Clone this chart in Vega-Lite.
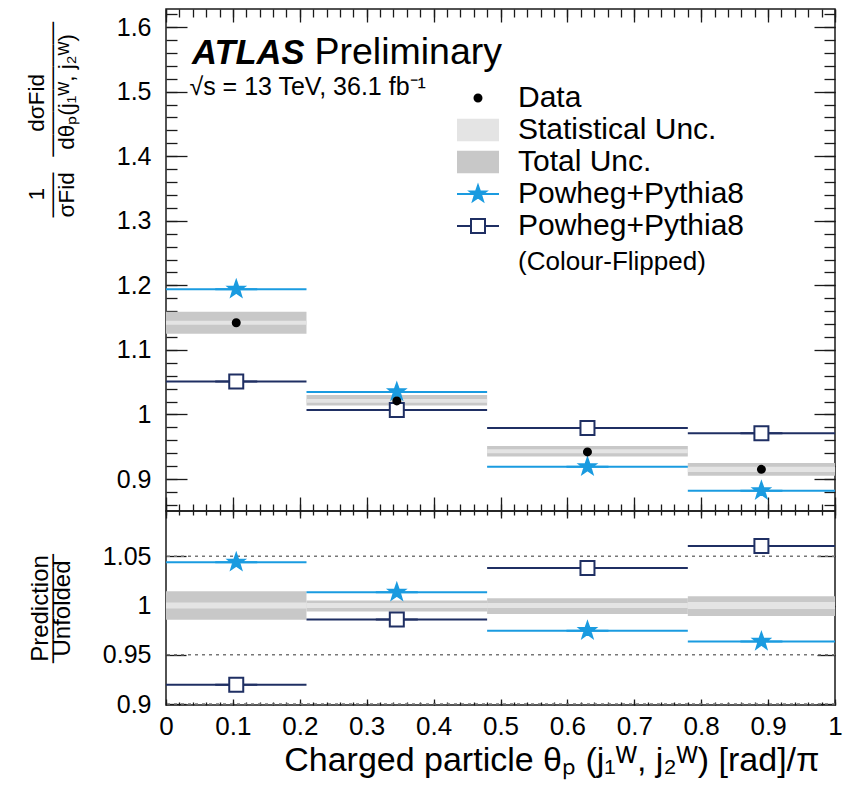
{
  "$schema": "https://vega.github.io/schema/vega-lite/v6.json",
  "padding": {"left": 24, "top": 7, "right": 5, "bottom": 5},
  "background": "white",
  "config": {
    "font": "Liberation Sans",
    "view": {"stroke": "#1a1a1a", "strokeWidth": 1.5},
    "axis": {"labelColor": "#000", "labelFont": "Liberation Sans", "titleFont": "Liberation Sans", "titleColor": "#000", "titleFontWeight": "normal", "tickColor": "#1a1a1a", "tickWidth": 1.3, "grid": false, "domain": false, "labelFlush": false},
    "legend": {"labelFont": "Liberation Sans", "labelColor": "#000"}
  },
  "datasets": {
    "top": [
      {"lo": 0, "hi": 0.21, "mid": 0.105, "data": 1.142, "pp8": 1.194, "pp8cf": 1.051, "statLo": 1.139, "statHi": 1.145, "totLo": 1.125, "totHi": 1.159},
      {"lo": 0.21, "hi": 0.48, "mid": 0.345, "data": 1.021, "pp8": 1.035, "pp8cf": 1.007, "statLo": 1.018, "statHi": 1.024, "totLo": 1.014, "totHi": 1.03},
      {"lo": 0.48, "hi": 0.78, "mid": 0.63, "data": 0.942, "pp8": 0.919, "pp8cf": 0.979, "statLo": 0.94, "statHi": 0.946, "totLo": 0.935, "totHi": 0.951},
      {"lo": 0.78, "hi": 1.0, "mid": 0.89, "data": 0.915, "pp8": 0.882, "pp8cf": 0.971, "statLo": 0.911, "statHi": 0.919, "totLo": 0.905, "totHi": 0.925}
    ],
    "bottom": [
      {"lo": 0, "hi": 0.21, "mid": 0.105, "pp8": 1.044, "pp8cf": 0.9196, "statLo": 0.997, "statHi": 1.003, "totLo": 0.9855, "totHi": 1.0145},
      {"lo": 0.21, "hi": 0.48, "mid": 0.345, "pp8": 1.0135, "pp8cf": 0.9857, "statLo": 0.9975, "statHi": 1.0025, "totLo": 0.994, "totHi": 1.005},
      {"lo": 0.48, "hi": 0.78, "mid": 0.63, "pp8": 0.9745, "pp8cf": 1.038, "statLo": 0.9975, "statHi": 1.0025, "totLo": 0.9915, "totHi": 1.0075},
      {"lo": 0.78, "hi": 1.0, "mid": 0.89, "pp8": 0.9636, "pp8cf": 1.0604, "statLo": 0.9965, "statHi": 1.0035, "totLo": 0.9895, "totHi": 1.0095}
    ],
    "refs": [{"r": 1.05}, {"r": 0.95}, {"r": 0.9}]
  },
  "bounds": "flush",
  "spacing": 0,
  "resolve": {
    "scale": {"fill": "independent", "stroke": "independent", "shape": "independent"},
    "legend": {"fill": "independent", "stroke": "independent", "shape": "independent"}
  },
  "vconcat": [
    {
      "width": 669,
      "height": 502,
      "data": {"name": "top"},
      "resolve": {"axis": {"x": "independent", "y": "independent"}},
      "layer": [
        {
          "mark": {"type": "rect", "color": "#c8c8c8"},
          "encoding": {
            "x": {"field": "lo", "type": "quantitative", "scale": {"domain": [0, 1], "nice": false, "zero": false},
              "axis": {"orient": "bottom", "values": [0,0.1,0.2,0.3,0.4,0.5,0.6,0.7,0.8,0.9,1], "labels": false, "ticks": true, "tickSize": -14, "title": null}},
            "x2": {"field": "hi"},
            "y": {"field": "totLo", "type": "quantitative", "scale": {"domain": [0.8505, 1.628], "nice": false, "zero": false},
              "axis": {"orient": "left", "values": [0.9,1,1.1,1.2,1.3,1.4,1.5,1.6], "format": "~g", "ticks": false, "labelFontSize": 25, "labelPadding": 15,
                "title": ["\u28001\u2003\u2003\u2002dσFid", "——\u2002\u2009——————", "σFid\u2003dθₚ(j₁ᵂ, j₂ᵂ)"], "titleFontSize": 22.5, "titleLineHeight": 15, "titleAlign": "left", "titleY": 208, "titlePadding": 38}},
            "y2": {"field": "totHi"}
          }
        },
        {
          "mark": {"type": "rect", "color": "#e4e4e4"},
          "encoding": {
            "x": {"field": "lo", "type": "quantitative", "scale": {"domain": [0, 1], "nice": false, "zero": false},
              "axis": {"orient": "bottom", "values": [0,0.02,0.04,0.06,0.08,0.1,0.12,0.14,0.16,0.18,0.2,0.22,0.24,0.26,0.28,0.3,0.32,0.34,0.36,0.38,0.4,0.42,0.44,0.46,0.48,0.5,0.52,0.54,0.56,0.58,0.6,0.62,0.64,0.66,0.68,0.7,0.72,0.74,0.76,0.78,0.8,0.82,0.84,0.86,0.88,0.9,0.92,0.94,0.96,0.98,1], "labels": false, "tickSize": -7, "title": null}},
            "x2": {"field": "hi"},
            "y": {"field": "statLo", "type": "quantitative", "scale": {"domain": [0.8505, 1.628], "nice": false, "zero": false},
              "axis": {"orient": "left", "values": [0.9,1,1.1,1.2,1.3,1.4,1.5,1.6], "labels": false, "tickSize": -21, "title": null}},
            "y2": {"field": "statHi"}
          }
        },
        {
          "mark": {"type": "rule", "strokeWidth": 2, "color": "#1a9be0"},
          "encoding": {
            "x": {"field": "lo", "type": "quantitative", "scale": {"domain": [0, 1], "nice": false, "zero": false},
              "axis": {"orient": "top", "values": [0,0.1,0.2,0.3,0.4,0.5,0.6,0.7,0.8,0.9,1], "labels": false, "tickSize": -13, "title": null}},
            "x2": {"field": "hi"},
            "y": {"field": "pp8", "type": "quantitative", "scale": {"domain": [0.8505, 1.628], "nice": false, "zero": false},
              "axis": {"orient": "left", "values": [0.86,0.88,0.9,0.92,0.94,0.96,0.98,1,1.02,1.04,1.06,1.08,1.1,1.12,1.14,1.16,1.18,1.2,1.22,1.24,1.26,1.28,1.3,1.32,1.34,1.36,1.38,1.4,1.42,1.44,1.46,1.48,1.5,1.52,1.54,1.56,1.58,1.6,1.62], "labels": false, "tickSize": -11, "title": null}}
          }
        },
        {
          "mark": {"type": "rule", "strokeWidth": 2, "color": "#1f2f63"},
          "encoding": {
            "x": {"field": "lo", "type": "quantitative", "scale": {"domain": [0, 1], "nice": false, "zero": false},
              "axis": {"orient": "top", "values": [0,0.02,0.04,0.06,0.08,0.1,0.12,0.14,0.16,0.18,0.2,0.22,0.24,0.26,0.28,0.3,0.32,0.34,0.36,0.38,0.4,0.42,0.44,0.46,0.48,0.5,0.52,0.54,0.56,0.58,0.6,0.62,0.64,0.66,0.68,0.7,0.72,0.74,0.76,0.78,0.8,0.82,0.84,0.86,0.88,0.9,0.92,0.94,0.96,0.98,1], "labels": false, "tickSize": -8, "title": null}},
            "x2": {"field": "hi"},
            "y": {"field": "pp8cf", "type": "quantitative", "scale": {"domain": [0.8505, 1.628], "nice": false, "zero": false},
              "axis": {"orient": "right", "values": [0.9,1,1.1,1.2,1.3,1.4,1.5,1.6], "labels": false, "tickSize": -21, "title": null}}
          }
        },
        {
          "transform": [{"fold": ["pp8cf", "pp8", "data"], "as": ["series", "value"]}],
          "mark": {"type": "point", "filled": true, "size": 196, "strokeWidth": 2, "opacity": 1},
          "encoding": {
            "x": {"field": "mid", "type": "quantitative", "scale": {"domain": [0, 1], "nice": false, "zero": false}, "axis": null},
            "y": {"field": "value", "type": "quantitative", "scale": {"domain": [0.8505, 1.628], "nice": false, "zero": false},
              "axis": {"orient": "right", "values": [0.86,0.88,0.9,0.92,0.94,0.96,0.98,1,1.02,1.04,1.06,1.08,1.1,1.12,1.14,1.16,1.18,1.2,1.22,1.24,1.26,1.28,1.3,1.32,1.34,1.36,1.38,1.4,1.42,1.44,1.46,1.48,1.5,1.52,1.54,1.56,1.58,1.6,1.62], "labels": false, "tickSize": -11, "title": null}},
            "fill": {"field": "series", "type": "nominal",
              "scale": {"domain": ["data", "stat", "total", "pp8", "pp8cf", "cf"], "range": ["#000000", "#e4e4e4", "#c8c8c8", "#1a9be0", "#ffffff", "rgba(0,0,0,0)"]},
              "legend": {"title": null, "orient": "none", "legendX": 297, "legendY": 74, "padding": 0, "symbolSize": 196, "symbolStrokeWidth": 2, "symbolOpacity": 1,
                "labelFontSize": 30, "labelOffset": 25, "rowPadding": -1, "gridAlign": "all", "labelLimit": 400,
                "labelExpr": "datum.value == 'data' ? 'Data' : datum.value == 'stat' ? 'Statistical Unc.' : datum.value == 'total' ? 'Total Unc.' : datum.value == 'cf' ? '(Colour-Flipped)' : 'Powheg+Pythia8'",
                "encode": {"labels": {"update": {"fontSize": {"signal": "datum.value == 'cf' ? 26 : 30"}, "dy": {"signal": "datum.value == 'cf' ? 4 : 0"}}}}}},
            "stroke": {"field": "series", "type": "nominal",
              "scale": {"domain": ["data", "stat", "total", "pp8", "pp8cf", "cf"], "range": ["#000000", "rgba(0,0,0,0)", "rgba(0,0,0,0)", "#1a9be0", "#1f2f63", "rgba(0,0,0,0)"]}},
            "shape": {"field": "series", "type": "nominal",
              "scale": {"domain": ["data", "stat", "total", "pp8", "pp8cf", "cf"],
                "range": ["M-0.5,0A0.5,0.5,0,1,0,0.5,0A0.5,0.5,0,1,0,-0.5,0Z", "M-3,-1.6H3V1.6H-3Z", "M-3,-1.6H3V1.6H-3Z", "M0,-1.2L0.282,-0.389L1.141,-0.371L0.457,0.149L0.705,0.971L0,0.48L-0.705,0.971L-0.457,0.149L-1.141,-0.371L-0.282,-0.389ZM-3,0H3", "M-1,-1H1V1H-1ZM-3,0H-1M1,0H3", "M0,0"]}}
          }
        },
        {
          "data": {"values": [{"t": "ATLAS"}]},
          "mark": {"type": "text", "align": "left", "baseline": "alphabetic", "fontSize": 34.5, "fontStyle": "italic", "fontWeight": "bold", "font": "Liberation Sans"},
          "encoding": {
            "x": {"datum": 0.039, "type": "quantitative", "axis": null},
            "y": {"datum": 1.543, "type": "quantitative", "axis": null},
            "text": {"field": "t"}
          }
        },
        {
          "data": {"values": [{"t": "Preliminary"}]},
          "mark": {"type": "text", "align": "left", "baseline": "alphabetic", "fontSize": 37.5, "font": "Liberation Sans"},
          "encoding": {
            "x": {"datum": 0.222, "type": "quantitative", "axis": null},
            "y": {"datum": 1.543, "type": "quantitative", "axis": null},
            "text": {"field": "t"}
          }
        },
        {
          "data": {"values": [{"t": "√s = 13 TeV, 36.1 fb⁻¹"}]},
          "mark": {"type": "text", "align": "left", "baseline": "alphabetic", "fontSize": 25, "font": "Liberation Sans"},
          "encoding": {
            "x": {"datum": 0.035, "type": "quantitative", "axis": null},
            "y": {"datum": 1.495, "type": "quantitative", "axis": null},
            "text": {"field": "t"}
          }
        }
      ]
    },
    {
      "width": 669,
      "height": 194,
      "data": {"name": "bottom"},
      "resolve": {"axis": {"x": "independent", "y": "independent"}},
      "layer": [
        {
          "mark": {"type": "rect", "color": "#c8c8c8"},
          "encoding": {
            "x": {"field": "lo", "type": "quantitative", "scale": {"domain": [0, 1], "nice": false, "zero": false},
              "axis": {"orient": "bottom", "values": [0,0.1,0.2,0.3,0.4,0.5,0.6,0.7,0.8,0.9,1], "format": "~g", "ticks": false, "labelFontSize": 26, "labelPadding": 8,
                "title": "Charged particle θₚ (j₁ᵂ, j₂ᵂ) [rad]/π", "titleFontSize": 34, "titleX": 653, "titleAlign": "right", "titlePadding": 4}},
            "x2": {"field": "hi"},
            "y": {"field": "totLo", "type": "quantitative", "scale": {"domain": [0.899, 1.096], "nice": false, "zero": false},
              "axis": {"orient": "left", "values": [0.9, 0.95, 1, 1.05], "format": "~g", "ticks": false, "labelFontSize": 25, "labelPadding": 15,
                "title": ["Prediction", "————–", "Unfolded"], "titleFontSize": 24, "titleLineHeight": 11, "titlePadding": 28}},
            "y2": {"field": "totHi"}
          }
        },
        {
          "mark": {"type": "rect", "color": "#e4e4e4"},
          "encoding": {
            "x": {"field": "lo", "type": "quantitative", "scale": {"domain": [0, 1], "nice": false, "zero": false},
              "axis": {"orient": "bottom", "values": [0,0.1,0.2,0.3,0.4,0.5,0.6,0.7,0.8,0.9,1], "labels": false, "tickSize": -6, "title": null}},
            "x2": {"field": "hi"},
            "y": {"field": "statLo", "type": "quantitative", "scale": {"domain": [0.899, 1.096], "nice": false, "zero": false},
              "axis": {"orient": "left", "values": [0.9, 0.95, 1, 1.05], "labels": false, "tickSize": -20, "title": null}},
            "y2": {"field": "statHi"}
          }
        },
        {
          "data": {"name": "refs"},
          "mark": {"type": "rule", "color": "#777777", "strokeWidth": 1.5, "strokeDash": [3, 4]},
          "encoding": {
            "y": {"field": "r", "type": "quantitative", "scale": {"domain": [0.899, 1.096], "nice": false, "zero": false},
              "axis": {"orient": "right", "values": [0.9, 0.95, 1, 1.05], "labels": false, "tickSize": -18, "title": null}}
          }
        },
        {
          "mark": {"type": "rule", "strokeWidth": 2, "color": "#1a9be0"},
          "encoding": {
            "x": {"field": "lo", "type": "quantitative", "scale": {"domain": [0, 1], "nice": false, "zero": false},
              "axis": {"orient": "bottom", "values": [0,0.02,0.04,0.06,0.08,0.1,0.12,0.14,0.16,0.18,0.2,0.22,0.24,0.26,0.28,0.3,0.32,0.34,0.36,0.38,0.4,0.42,0.44,0.46,0.48,0.5,0.52,0.54,0.56,0.58,0.6,0.62,0.64,0.66,0.68,0.7,0.72,0.74,0.76,0.78,0.8,0.82,0.84,0.86,0.88,0.9,0.92,0.94,0.96,0.98,1], "labels": false, "tickSize": -3, "title": null}},
            "x2": {"field": "hi"},
            "y": {"field": "pp8", "type": "quantitative", "scale": {"domain": [0.899, 1.096], "nice": false, "zero": false}, "axis": null}
          }
        },
        {
          "mark": {"type": "rule", "strokeWidth": 2, "color": "#1f2f63"},
          "encoding": {
            "x": {"field": "lo", "type": "quantitative", "scale": {"domain": [0, 1], "nice": false, "zero": false},
              "axis": {"orient": "top", "values": [0,0.1,0.2,0.3,0.4,0.5,0.6,0.7,0.8,0.9,1], "labels": false, "tickSize": -7, "title": null}},
            "x2": {"field": "hi"},
            "y": {"field": "pp8cf", "type": "quantitative", "scale": {"domain": [0.899, 1.096], "nice": false, "zero": false}, "axis": null}
          }
        },
        {
          "mark": {"type": "point", "filled": true, "size": 196, "strokeWidth": 2, "opacity": 1, "fill": "#1a9be0", "stroke": "#1a9be0",
            "shape": "M0,-1.2L0.282,-0.389L1.141,-0.371L0.457,0.149L0.705,0.971L0,0.48L-0.705,0.971L-0.457,0.149L-1.141,-0.371L-0.282,-0.389ZM-3,0H3"},
          "encoding": {
            "x": {"field": "mid", "type": "quantitative", "scale": {"domain": [0, 1], "nice": false, "zero": false},
              "axis": {"orient": "top", "values": [0,0.02,0.04,0.06,0.08,0.1,0.12,0.14,0.16,0.18,0.2,0.22,0.24,0.26,0.28,0.3,0.32,0.34,0.36,0.38,0.4,0.42,0.44,0.46,0.48,0.5,0.52,0.54,0.56,0.58,0.6,0.62,0.64,0.66,0.68,0.7,0.72,0.74,0.76,0.78,0.8,0.82,0.84,0.86,0.88,0.9,0.92,0.94,0.96,0.98,1], "labels": false, "tickSize": -4, "title": null}},
            "y": {"field": "pp8", "type": "quantitative", "scale": {"domain": [0.899, 1.096], "nice": false, "zero": false}, "axis": null}
          }
        },
        {
          "mark": {"type": "point", "filled": true, "size": 196, "strokeWidth": 2, "opacity": 1, "fill": "#ffffff", "stroke": "#1f2f63",
            "shape": "M-1,-1H1V1H-1ZM-3,0H-1M1,0H3"},
          "encoding": {
            "x": {"field": "mid", "type": "quantitative", "scale": {"domain": [0, 1], "nice": false, "zero": false}, "axis": null},
            "y": {"field": "pp8cf", "type": "quantitative", "scale": {"domain": [0.899, 1.096], "nice": false, "zero": false}, "axis": null}
          }
        }
      ]
    }
  ]
}
